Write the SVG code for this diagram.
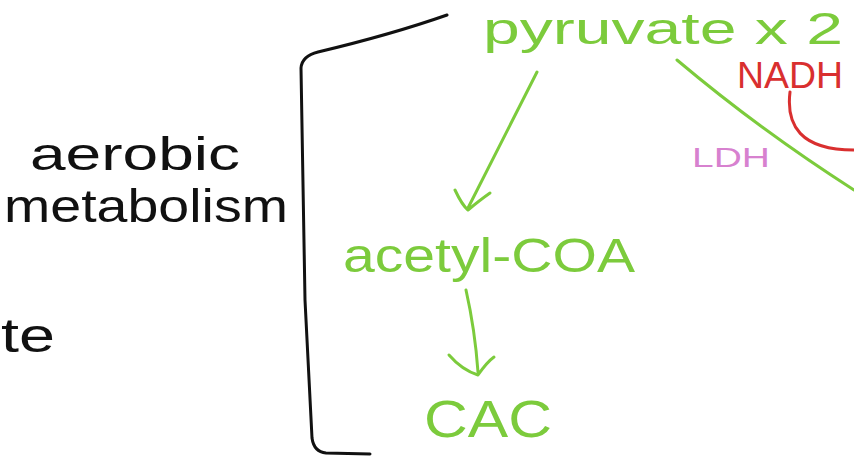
<svg xmlns="http://www.w3.org/2000/svg" width="854" height="458" viewBox="0 0 854 458">
<style>
.t{font-family:"Liberation Sans","DejaVu Sans",sans-serif;font-weight:normal}
.g{fill:#7ccb3c}
.k{fill:#111}
.ln{fill:none;stroke-linecap:round;stroke-linejoin:round}
.gs{stroke:#7ccb3c;stroke-width:3}
</style>
<rect width="854" height="458" fill="#fff"/>
<g id="bracket"><path class="ln" d="M447,15 C410,28 360,42 318,52 Q302,56 301,68 L305,300 L312,438 Q314,452 326,453 L370,454" stroke="#111" stroke-width="3"/></g>
<g id="aerobic-metabolism">
<text class="t k" x="30" y="170" font-size="46" textLength="210" lengthAdjust="spacingAndGlyphs">aerobic</text>
<text class="t k" x="4" y="222" font-size="46" textLength="284" lengthAdjust="spacingAndGlyphs">metabolism</text>
</g>
<g id="te"><text class="t k" x="1" y="352" font-size="48" textLength="54" lengthAdjust="spacingAndGlyphs">te</text></g>
<g id="pyruvate"><text class="t g" x="483" y="44" font-size="44" textLength="360" lengthAdjust="spacingAndGlyphs">pyruvate x 2</text></g>
<g id="acetyl-coa"><text class="t g" x="343" y="272" font-size="48" textLength="292" lengthAdjust="spacingAndGlyphs">acetyl-COA</text></g>
<g id="cac"><text class="t g" x="424" y="437" font-size="52" textLength="128" lengthAdjust="spacingAndGlyphs">CAC</text></g>
<g id="nadh"><text class="t" x="737" y="88" font-size="36" fill="#d92f2f" textLength="106" lengthAdjust="spacingAndGlyphs">NADH</text></g>
<g id="ldh"><text class="t" x="692" y="167" font-size="28" fill="#d781cf" textLength="78" lengthAdjust="spacingAndGlyphs">LDH</text></g>
<g id="connectors">
<path class="ln gs" d="M537,72 L468,208 M455,190 Q462,205 468,210 Q480,200 490,193"/>
<path class="ln gs" d="M466,290 Q475,330 478,372 M449,355 Q462,370 478,375 Q487,362 494,357"/>
<path class="ln gs" d="M677,60 Q760,130 854,190"/>
<path class="ln" d="M790,92 C786,125 800,150 854,150" stroke="#d92f2f" stroke-width="3"/>
</g>
</svg>
